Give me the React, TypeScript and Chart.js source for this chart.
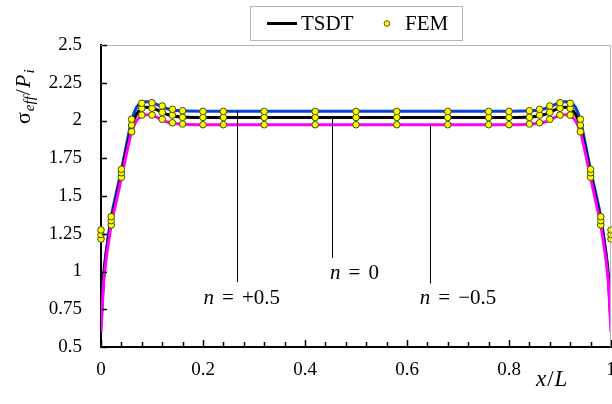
import React, { useEffect, useRef } from 'react';
import { Chart, registerables } from 'chart.js';
Chart.register(...registerables);

// ---- data ----
const lineX = [0, 0.005, 0.01, 0.02, 0.03, 0.04, 0.05, 0.06, 0.07, 0.08, 0.09, 0.10, 0.11, 0.12, 0.13, 0.14, 0.16, 0.20,
  0.50,
  0.80, 0.84, 0.86, 0.87, 0.88, 0.89, 0.90, 0.91, 0.92, 0.93, 0.94, 0.95, 0.96, 0.97, 0.98, 0.99, 0.995, 1.0];

const tsdtPos = [0.66, 0.97, 1.13, 1.36, 1.52, 1.67, 1.84, 2.0, 2.09, 2.12, 2.125, 2.12, 2.105, 2.09, 2.078, 2.07, 2.064, 2.062,
  2.062,
  2.062, 2.064, 2.07, 2.078, 2.09, 2.105, 2.12, 2.125, 2.12, 2.09, 2.0, 1.84, 1.67, 1.52, 1.36, 1.13, 0.97, 0.66];
const tsdtZero = [0.64, 0.95, 1.11, 1.335, 1.49, 1.65, 1.81, 1.96, 2.045, 2.08, 2.088, 2.085, 2.07, 2.055, 2.04, 2.032, 2.023, 2.02,
  2.02,
  2.02, 2.023, 2.032, 2.04, 2.055, 2.07, 2.085, 2.088, 2.08, 2.045, 1.96, 1.81, 1.65, 1.49, 1.335, 1.11, 0.95, 0.64];
const tsdtNeg = [0.60, 0.92, 1.08, 1.305, 1.465, 1.62, 1.78, 1.925, 2.0, 2.03, 2.038, 2.036, 2.02, 2.005, 1.99, 1.982, 1.975, 1.972,
  1.972,
  1.972, 1.975, 1.982, 1.99, 2.005, 2.02, 2.036, 2.038, 2.03, 2.0, 1.925, 1.78, 1.62, 1.465, 1.305, 1.08, 0.92, 0.60];

const femX = [0, 0.02, 0.04, 0.06, 0.08, 0.10, 0.12, 0.14, 0.16, 0.20, 0.24, 0.32, 0.42, 0.50, 0.58, 0.68, 0.76, 0.80,
  0.84, 0.86, 0.88, 0.90, 0.92, 0.94, 0.96, 0.98, 1.0];
const femPos = [1.275, 1.363, 1.677, 2.008, 2.114, 2.118, 2.096, 2.074, 2.065, 2.06, 2.06, 2.06, 2.06, 2.06, 2.06, 2.06, 2.06, 2.06,
  2.065, 2.074, 2.096, 2.118, 2.114, 2.008, 1.677, 1.363, 1.275];
const femZero = [1.245, 1.337, 1.654, 1.970, 2.081, 2.081, 2.054, 2.036, 2.021, 2.02, 2.02, 2.02, 2.02, 2.02, 2.02, 2.02, 2.02, 2.02,
  2.021, 2.036, 2.054, 2.081, 2.081, 1.970, 1.654, 1.337, 1.245];
const femNeg = [1.215, 1.308, 1.624, 1.926, 2.036, 2.036, 2.008, 1.985, 1.977, 1.972, 1.972, 1.972, 1.972, 1.972, 1.972, 1.972, 1.972, 1.972,
  1.977, 1.985, 2.008, 2.036, 2.036, 1.926, 1.624, 1.308, 1.215];

const xMajorTicks = [0, 0.2, 0.4, 0.6, 0.8, 1];
const xTickLabels = ['0', '0.2', '0.4', '0.6', '0.8', '1'];
const yTickValues = [0.5, 0.75, 1, 1.25, 1.5, 1.75, 2, 2.25, 2.5];
const yTickLabels = ['0.5', '0.75', '1', '1.25', '1.5', '1.75', '2', '2.25', '2.5'];

// annotations (values in data space)
const annLabels = ['+0.5', '0', '\u22120.5'];
const annLineX = [0.267, 0.453, 0.645];
const annLineTop = [2.062, 2.02, 1.972];
const annLineBottom = [0.93, 1.09, 0.92];
const annTextX = [0.276, 0.497, 0.70];
const annTextY = [0.82, 0.985, 0.82];

const SERIF = "'Liberation Serif', 'Times New Roman', serif";

const toPts = (xs: number[], ys: number[]) => xs.map((x, i) => ({ x, y: ys[i] }));

const decorPlugin = {
  id: 'decor',
  beforeDraw(chart: any) {
    const ctx = chart.ctx;
    ctx.save();
    ctx.fillStyle = '#ffffff';
    ctx.fillRect(0, 0, chart.width, chart.height);
    ctx.restore();
  },
  afterDraw(chart: any) {
    const ctx = chart.ctx;
    const { left, right, top, bottom } = chart.chartArea;
    const xs = chart.scales.x;
    const ys = chart.scales.y;
    ctx.save();
    // gray top/right frame
    ctx.strokeStyle = '#b4b4b4';
    ctx.lineWidth = 1;
    ctx.beginPath();
    ctx.moveTo(left, top + 0.5);
    ctx.lineTo(right - 0.5, top + 0.5);
    ctx.lineTo(right - 0.5, bottom);
    ctx.stroke();

    // inward ticks
    ctx.strokeStyle = '#000';
    ctx.lineWidth = 1.5;
    xs.ticks.forEach((t: any) => {
      const px = Math.round(xs.getPixelForValue(t.value)) + 0.5;
      const major = xMajorTicks.some((m) => Math.abs(m - t.value) < 1e-6);
      const len = major ? 6 : 4;
      ctx.beginPath();
      ctx.moveTo(px, bottom - 1);
      ctx.lineTo(px, bottom - 1 - len);
      ctx.stroke();
    });
    ys.ticks.forEach((t: any) => {
      const py = Math.round(ys.getPixelForValue(t.value)) + 0.5;
      ctx.beginPath();
      ctx.moveTo(left + 1, py);
      ctx.lineTo(left + 6, py);
      ctx.stroke();
    });

    // annotations
    ctx.lineWidth = 1;
    ctx.strokeStyle = '#000';
    ctx.fillStyle = '#000';
    annLabels.forEach((lab, i) => {
      const lx = Math.round(xs.getPixelForValue(annLineX[i])) + 0.5;
      ctx.beginPath();
      ctx.moveTo(lx, ys.getPixelForValue(annLineTop[i]));
      ctx.lineTo(lx, ys.getPixelForValue(annLineBottom[i]));
      ctx.stroke();
      const cx = xs.getPixelForValue(annTextX[i]);
      const cy = ys.getPixelForValue(annTextY[i]);
      const fi = `italic 21px ${SERIF}`;
      const fn = `21px ${SERIF}`;
      ctx.font = fi;
      const wn = ctx.measureText('n').width;
      ctx.font = fn;
      const we = ctx.measureText('=').width;
      const wl = ctx.measureText(lab).width;
      const gap = 8;
      const total = wn + gap + we + gap + wl;
      let x0 = cx - total / 2;
      ctx.textBaseline = 'middle';
      ctx.textAlign = 'left';
      ctx.font = fi;
      ctx.fillText('n', x0, cy);
      x0 += wn + gap;
      ctx.font = fn;
      ctx.fillText('=', x0, cy);
      x0 += we + gap;
      ctx.fillText(lab, x0, cy);
    });

    // legend
    ctx.strokeStyle = '#b4b4b4';
    ctx.lineWidth = 1;
    ctx.strokeRect(250.5, 6.5, 212, 34);
    ctx.strokeStyle = '#000';
    ctx.lineWidth = 3;
    ctx.beginPath();
    ctx.moveTo(267, 23.5);
    ctx.lineTo(297, 23.5);
    ctx.stroke();
    ctx.font = `21px ${SERIF}`;
    ctx.fillStyle = '#000';
    ctx.textBaseline = 'middle';
    ctx.textAlign = 'left';
    ctx.fillText('TSDT', 301, 24);
    ctx.beginPath();
    ctx.arc(387, 23.5, 2.8, 0, Math.PI * 2);
    ctx.fillStyle = '#ffff00';
    ctx.fill();
    ctx.strokeStyle = '#5a5a00';
    ctx.lineWidth = 1;
    ctx.stroke();
    ctx.fillStyle = '#000';
    ctx.fillText('FEM', 405, 24);

    // y title: σ_eff / P_i (rotated)
    ctx.save();
    ctx.translate(30, 124);
    ctx.rotate(-Math.PI / 2);
    ctx.textBaseline = 'alphabetic';
    let tx = 0;
    const parts: [string, string, number][] = [
      ['\u03c3', `22px ${SERIF}`, 0],
      ['eff', `italic 15px ${SERIF}`, 4],
      ['/', `22px ${SERIF}`, 0],
      ['P', `italic 22px ${SERIF}`, 0],
      ['i', `italic 15px ${SERIF}`, 4],
    ];
    parts.forEach(([s, f, dy]) => {
      ctx.font = f;
      ctx.fillText(s, tx, dy);
      tx += ctx.measureText(s).width + 1;
    });
    ctx.restore();

    // x title: x/L
    ctx.textBaseline = 'middle';
    let xx = 536;
    const xparts: [string, string][] = [
      ['x', `italic 23px ${SERIF}`],
      ['/', `23px ${SERIF}`],
      ['L', `italic 23px ${SERIF}`],
    ];
    xparts.forEach(([s, f]) => {
      ctx.font = f;
      ctx.fillText(s, xx, 380);
      xx += ctx.measureText(s).width + 1;
    });
    ctx.restore();
  },
};

export default function App() {
  const ref = useRef<HTMLCanvasElement | null>(null);
  useEffect(() => {
    if (!ref.current) return;
    const femStyle = {
      type: 'scatter' as const,
      showLine: false,
      pointRadius: 3.3,
      pointBackgroundColor: '#ffff00',
      pointBorderColor: '#4a4a00',
      pointBorderWidth: 1,
      clip: false as any,
    };
    const lineStyle = {
      type: 'line' as const,
      pointRadius: 0,
      borderWidth: 3,
      fill: false,
      cubicInterpolationMode: 'monotone' as const,
    };
    const chart = new Chart(ref.current, {
      type: 'line',
      data: {
        datasets: [
          { ...femStyle, label: 'FEM n=+0.5', data: toPts(femX, femPos) },
          { ...femStyle, label: 'FEM n=0', data: toPts(femX, femZero) },
          { ...femStyle, label: 'FEM n=-0.5', data: toPts(femX, femNeg) },
          { ...lineStyle, label: 'TSDT n=-0.5', data: toPts(lineX, tsdtNeg), borderColor: '#ff00ff' },
          { ...lineStyle, label: 'TSDT n=0', data: toPts(lineX, tsdtZero), borderColor: '#000000' },
          { ...lineStyle, label: 'TSDT n=+0.5', data: toPts(lineX, tsdtPos), borderColor: '#0a3fd8' },
        ] as any,
      },
      options: {
        responsive: false,
        animation: false,
        devicePixelRatio: 1,
        layout: { padding: { left: 0, right: 1, top: 45, bottom: 0 }, autoPadding: false } as any,
        plugins: { legend: { display: false }, tooltip: { enabled: false } },
        scales: {
          x: {
            type: 'linear',
            min: 0,
            max: 1,
            afterFit: (s: any) => { s.height = 57; s.paddingLeft = 0; s.paddingRight = 0; },
            ticks: {
              stepSize: 0.04,
              autoSkip: false,
              maxRotation: 0,
              padding: 12,
              color: '#000',
              font: { family: SERIF, size: 19 },
              callback: (v: any) => {
                const idx = xMajorTicks.findIndex((m) => Math.abs(m - v) < 1e-6);
                return idx >= 0 ? xTickLabels[idx] : '';
              },
            },
            grid: { display: true, drawOnChartArea: false, drawTicks: false },
            border: { display: true, color: '#000', width: 2 },
          },
          y: {
            type: 'linear',
            min: 0.5,
            max: 2.5,
            afterFit: (s: any) => { s.width = 101; s.paddingTop = 0; s.paddingBottom = 0; },
            ticks: {
              stepSize: 0.25,
              padding: 19,
              color: '#000',
              font: { family: SERIF, size: 19 },
              callback: (v: any) => {
                const idx = yTickValues.findIndex((m) => Math.abs(m - v) < 1e-6);
                return idx >= 0 ? yTickLabels[idx] : '';
              },
            },
            grid: { display: true, drawOnChartArea: false, drawTicks: false },
            border: { display: true, color: '#000', width: 2 },
          },
        },
      },
      plugins: [decorPlugin],
    });
    return () => chart.destroy();
  }, []);
  return (
    <div style={{ position: 'absolute', left: 0, top: 0, width: 612, height: 404 }}>
      <canvas ref={ref} width={612} height={404} style={{ width: 612, height: 404, display: 'block' }} />
    </div>
  );
}
